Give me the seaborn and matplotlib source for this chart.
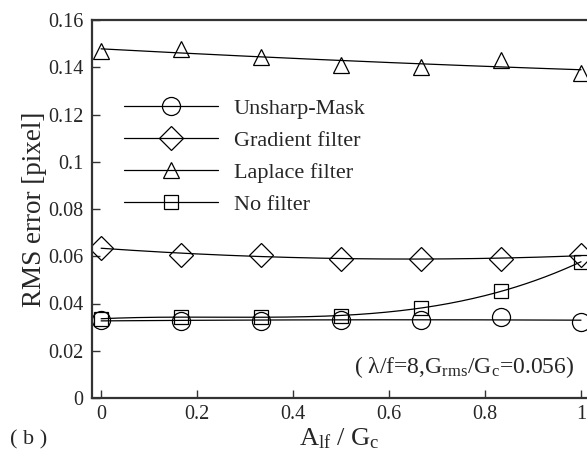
import numpy as np
import pandas as pd
import matplotlib
matplotlib.use("Agg")
import matplotlib.pyplot as plt
from matplotlib.lines import Line2D
from matplotlib.ticker import FormatStrFormatter
import seaborn as sns

# Normalised low-frequency amplitude A_lf / G_c
x_vals = [0.0, 1/6, 2/6, 3/6, 4/6, 5/6, 1.0]

# RMS error [pixel] per filter
unsharp = [0.0330, 0.0326, 0.0326, 0.0330, 0.0330, 0.0343, 0.0322]
gradient = [0.0636, 0.0606, 0.0606, 0.0589, 0.0589, 0.0589, 0.0604]
laplace = [0.1470, 0.1478, 0.1445, 0.1411, 0.1403, 0.1432, 0.1377]
no_filter = [0.0335, 0.0343, 0.0343, 0.0347, 0.0381, 0.0453, 0.0576]

series_names = ["Unsharp-Mask", "Gradient filter", "Laplace filter", "No filter"]
series_values = [unsharp, gradient, laplace, no_filter]
series_markers = ["o", "D", "^", "s"]
series_msize = [13, 12, 12, 10]
fit_degree = [2, 2, 2, 3]

x_ticks = [0, 0.2, 0.4, 0.6, 0.8, 1.0]
y_ticks = [0, 0.02, 0.04, 0.06, 0.08, 0.1, 0.12, 0.14, 0.16]

sns.set_style("ticks")
plt.rcParams["font.family"] = ["Liberation Serif", "DejaVu Serif"]
plt.rcParams["mathtext.fontset"] = "custom"
plt.rcParams["mathtext.rm"] = "Liberation Serif"
plt.rcParams["mathtext.it"] = "Liberation Serif:italic"

fig = plt.figure(figsize=(5.87, 4.57), dpi=100)
ax = fig.add_axes([92 / 587, 59 / 457, 1 - 92 / 587, 378 / 457])

# smooth trend curves through each series
xs = np.linspace(0, 1, 200)
for name, vals, deg in zip(series_names, series_values, fit_degree):
    coef = np.polyfit(x_vals, vals, deg)
    curve = pd.DataFrame({"x": xs, "y": np.polyval(coef, xs)})
    sns.lineplot(data=curve, x="x", y="y", ax=ax, color="black",
                 linewidth=0.9, legend=False)

# measured points as open markers
for name, vals, mk, ms in zip(series_names, series_values, series_markers, series_msize):
    pts = pd.DataFrame({"x": x_vals, "y": vals})
    sns.lineplot(data=pts, x="x", y="y", ax=ax, linestyle="none",
                 marker=mk, markersize=ms, markerfacecolor="none",
                 markeredgecolor="black", markeredgewidth=0.9,
                 color="black", legend=False)

ax.set_xlim(-0.019, 1.0125)
ax.set_ylim(0, 0.16)
ax.set_xticks(x_ticks)
ax.set_yticks(y_ticks)
ax.xaxis.set_major_formatter(FormatStrFormatter("%g"))
ax.yaxis.set_major_formatter(FormatStrFormatter("%g"))
ax.tick_params(axis="both", direction="in", length=6, width=1.0,
               labelsize=14.5, color="#333333", pad=6)
ax.tick_params(axis="x", pad=5)
for side in ["left", "bottom", "top"]:
    ax.spines[side].set_linewidth(1.6)
    ax.spines[side].set_color("#333333")
ax.spines["right"].set_visible(False)

ax.set_xlabel(r"$\mathrm{A_{lf}}$ / $\mathrm{G_c}$", fontsize=19, labelpad=2)
ax.set_ylabel("RMS error [pixel]", fontsize=19.5, labelpad=1)

handles = [Line2D([], [], color="black", linewidth=0.9, marker=mk,
                  markersize=ms, markerfacecolor="none",
                  markeredgecolor="black", markeredgewidth=0.9)
           for mk, ms in zip(series_markers, series_msize)]
ax.legend(handles, series_names, loc="upper left",
          bbox_to_anchor=(0.065, 0.793), frameon=False, fontsize=16,
          handlelength=4.2, handletextpad=0.72, labelspacing=0.52,
          borderpad=0, borderaxespad=0)

ax.text(0.975, 0.082,
        "( λ/f=8,G$_{\\mathrm{rms}}$/G$_{\\mathrm{c}}$=0.056)",
        transform=ax.transAxes, ha="right", va="center", fontsize=17)

fig.text(10 / 587, 1 - 440 / 457, "( b )", ha="left", va="center", fontsize=16)

fig.savefig("out.png", dpi=100)
